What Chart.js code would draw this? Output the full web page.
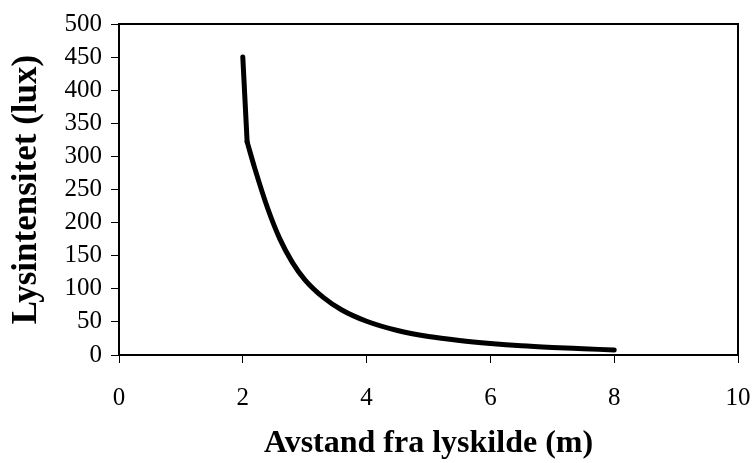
<!DOCTYPE html>
<html>
<head>
<meta charset="utf-8">
<script src="https://cdn.jsdelivr.net/npm/chart.js@4"></script>
<style>
  html, body { margin: 0; padding: 0; background: #fff; }
  #wrap { width: 753px; height: 463px; }
</style>
</head>
<body>
<div id="wrap"><canvas id="chart" width="753" height="463"></canvas></div>
<script>
// avstand (m) og lysintensitet (lux), lest av figuren
const avstand = [2, 2.07, 2.2, 2.4, 2.6, 2.8, 3, 3.3, 3.6, 4, 4.5, 5, 5.5, 6, 6.5, 7, 7.5, 8];
const lux = [450, 322, 280, 222, 175, 140, 114, 87, 68, 51, 37, 28, 22, 17.5, 14, 11.5, 9.5, 7.5];

const xTittel = "Avstand fra lyskilde (m)";
const yTittel = "Lysintensitet (lux)";

const serif = "'Liberation Serif', 'Times New Roman', serif";

const punkter = avstand.map((x, i) => ({ x, y: lux[i] }));

// ramme rundt plottet
const ramme = {
  id: "ramme",
  afterDraw(chart) {
    const { ctx, chartArea: a } = chart;
    ctx.save();
    ctx.strokeStyle = "#000";
    ctx.lineWidth = 2;
    ctx.strokeRect(a.left, a.top, a.right - a.left, a.bottom - a.top);
    ctx.restore();
  }
};

const linje = {
  borderColor: "#000",
  borderWidth: 5,
  borderCapStyle: "round",
  borderJoinStyle: "round",
  pointRadius: 0,
  fill: false
};

new Chart(document.getElementById("chart"), {
  type: "line",
  data: {
    datasets: [
      // bratt start (knekk ved 2.07)
      { ...linje, data: punkter.slice(0, 2), tension: 0 },
      { ...linje, data: punkter.slice(1), cubicInterpolationMode: "monotone" }
    ]
  },
  options: {
    responsive: false,
    animation: false,
    layout: { padding: { top: 22, right: 15, left: 0, bottom: 0 } },
    plugins: { legend: { display: false }, tooltip: { enabled: false } },
    scales: {
      x: {
        type: "linear",
        min: 0, max: 10,
        ticks: { stepSize: 2, color: "#000", font: { family: serif, size: 25 }, padding: 20 },
        grid: { drawOnChartArea: false, tickLength: 8, color: "#000" },
        border: { color: "#000", width: 2 },
        title: { display: true, text: xTittel, color: "#000", font: { family: serif, size: 32, weight: "bold" }, padding: 0 },
        afterFit(s) { s.height = 108; s.paddingLeft = 0; s.paddingRight = 0; }
      },
      y: {
        min: 0, max: 500,
        ticks: { stepSize: 50, color: "#000", font: { family: serif, size: 25 }, padding: 9 },
        grid: { drawOnChartArea: false, tickLength: 8, color: "#000" },
        border: { color: "#000", width: 2 },
        title: { display: true, text: yTittel, color: "#000", font: { family: serif, size: 35, weight: "bold" }, padding: { top: 6, bottom: 0 } },
        afterFit(s) { s.width = 119; }
      }
    }
  },
  plugins: [ramme]
});
</script>
</body>
</html>
